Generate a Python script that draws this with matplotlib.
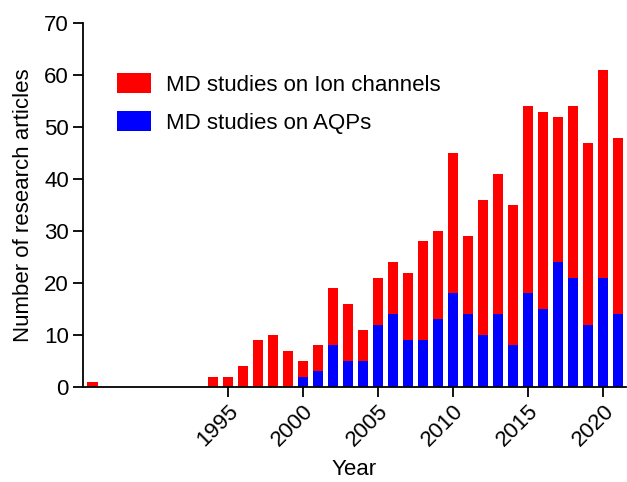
import matplotlib
matplotlib.use('Agg')
import matplotlib.pyplot as plt

years = [1986, 1994, 1995, 1996, 1997, 1998, 1999, 2000, 2001, 2002, 2003,
         2004, 2005, 2006, 2007, 2008, 2009, 2010, 2011, 2012, 2013, 2014,
         2015, 2016, 2017, 2018, 2019, 2020, 2021]
ion_channels = [1, 2, 2, 4, 9, 10, 7, 5, 8, 19, 16, 11, 21, 24, 22, 28, 30,
                45, 29, 36, 41, 35, 54, 53, 52, 54, 47, 61, 48]
aqps = [0, 0, 0, 0, 0, 0, 0, 2, 3, 8, 5, 5, 12, 14, 9, 9, 13, 18, 14, 10,
        14, 8, 18, 15, 24, 21, 12, 21, 14]
xticks = [1995, 2000, 2005, 2010, 2015, 2020]

plt.rcParams['font.family'] = ['Liberation Sans', 'DejaVu Sans']

fig = plt.figure(figsize=(6.27, 4.82), dpi=100)
ax = fig.add_axes([0.132, 0.197, 0.866, 0.755])

# red = all ion channel studies, blue (AQPs) drawn over it
ax.bar(years, ion_channels, width=0.67, color='#ff0000', label='MD studies on Ion channels')
ax.bar(years, aqps, width=0.67, color='#0000ff', label='MD studies on AQPs')

ax.set_xlim(1985.35, 2021.5)
ax.set_ylim(0, 70)
ax.set_yticks(range(0, 71, 10))
ax.set_xticks(xticks)
ax.set_xticklabels([str(t) for t in xticks], rotation=45, ha='right',
                   rotation_mode='anchor')

for s in ['top', 'right']:
    ax.spines[s].set_visible(False)
for s in ['left', 'bottom']:
    ax.spines[s].set_linewidth(1.3)
ax.tick_params(axis='both', direction='out', length=7, width=1.3,
               labelsize=16, pad=3)

ax.set_xlabel('Year', fontsize=16, labelpad=6)
ax.set_ylabel('Number of research articles', fontsize=16, labelpad=7)

ax.legend(loc='upper left', bbox_to_anchor=(0.0626, 0.862), frameon=False,
          fontsize=16, handlelength=1.53, handleheight=1.0,
          labelspacing=0.7, handletextpad=0.68, borderpad=0, borderaxespad=0)

fig.savefig('out.png', dpi=100)
